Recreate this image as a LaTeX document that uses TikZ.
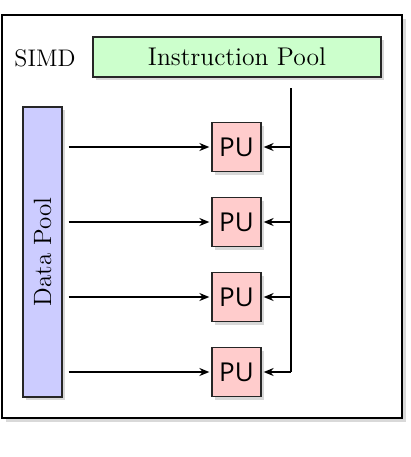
\documentclass[tikz,border=0pt]{standalone}
\usepackage{fontspec}
\newfontfamily\pufont{Open Sans}
\usetikzlibrary{arrows.meta,shadows,calc}
\definecolor{ipgreen}{RGB}{204,255,204}
\definecolor{dpblue}{RGB}{204,204,255}
\definecolor{pured}{RGB}{255,204,204}
\tikzset{
  shad/.style={drop shadow={shadow xshift=1.6pt,shadow yshift=-1.6pt,opacity=0.25,fill=black!60}},
  box/.style={draw=black!85,line width=0.65pt,shad,inner sep=0pt},
  pubox/.style={box,fill=pured,minimum width=24.5pt,minimum height=24.5pt,font=\pufont\fontsize{13}{15}\selectfont},
  conn/.style={line width=0.65pt,-{Stealth[length=5pt,width=4pt]}},
}
\begin{document}
\begin{tikzpicture}[x=0.5pt,y=-0.5pt]
\useasboundingbox (0,0) rectangle (411,457);
\path[draw=black,line width=1.3pt,fill=white,drop shadow={shadow xshift=2pt,shadow yshift=-2pt,opacity=0.25,fill=black!60}] (2,15) rectangle (402,418);
\node (simd) at (45,58) {\fontsize{12}{14}\selectfont SIMD};
\node[box,fill=ipgreen,minimum width=144pt,minimum height=20pt,font=\fontsize{12.8}{15}\selectfont] (ip) at (237,57) {Instruction Pool};
\node[box,fill=dpblue,rotate=90,minimum width=145pt,minimum height=19.5pt,font=\fontsize{12.5}{14}\selectfont] (dp) at (42.5,252) {Data Pool};
\node[pubox] (pu1) at (236.5,147) {PU};
\node[pubox] (pu2) at (236.5,222) {PU};
\node[pubox] (pu3) at (236.5,297) {PU};
\node[pubox] (pu4) at (236.5,372) {PU};
\coordinate (bustop) at (291,88);
\coordinate (busbot) at (291,372);
\draw[line width=0.65pt] (bustop) -- (busbot);
\foreach \i in {1,2,3,4}{
  \draw[conn,shorten >=1pt] ($(dp.south |- pu\i.west)+(6,0)$) -- (pu\i.west);
  \draw[conn,shorten >=1pt] (bustop |- pu\i.east) -- (pu\i.east);
}
\end{tikzpicture}
\end{document}
